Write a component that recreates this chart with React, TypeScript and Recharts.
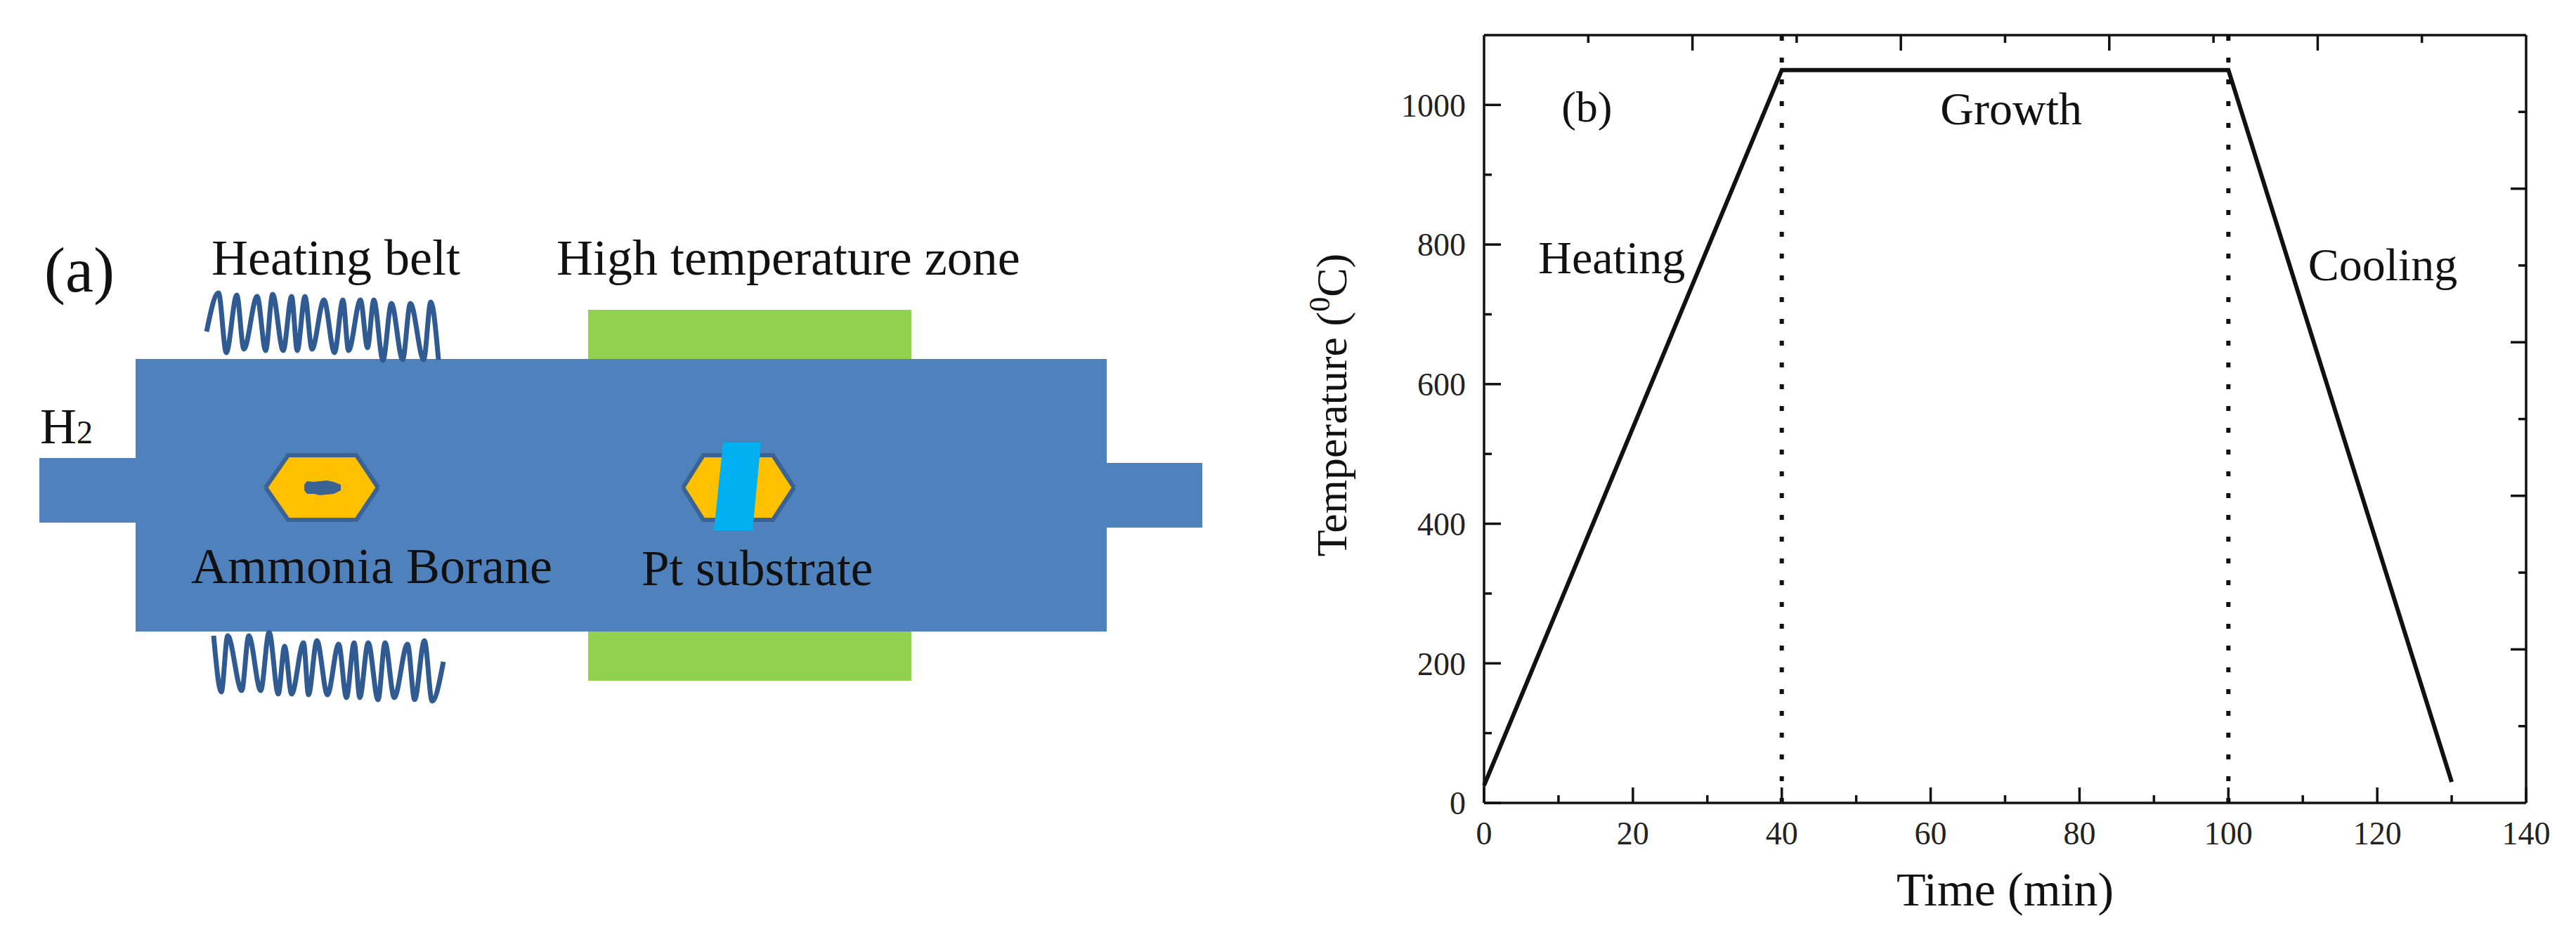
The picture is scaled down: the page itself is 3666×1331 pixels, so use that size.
import React from 'react';
import { Area, ComposedChart, Line, ReferenceDot, ReferenceLine, XAxis, YAxis } from 'recharts';

// panel (b): furnace temperature profile
const time = [0, 40, 100, 130];
const temperature = [25, 1050, 1050, 30];
const phaseBoundaries = [40, 100];
const timeMajor = [0, 20, 40, 60, 80, 100, 120, 140];
const timeMinor = [10, 30, 50, 70, 90, 110, 130];
const tempMajor = [0, 200, 400, 600, 800, 1000];
const tempMinor = [100, 300, 500, 700, 900];
const topMajor = [28, 56, 84, 112];
const topMinor = [14, 42, 70, 98, 126];
const rightMajor = [220, 440, 660, 880];
const rightMinor = [110, 330, 550, 770, 990];
const profileLabels: [string, number, number][] = [
  ['(b)', 10.4, 976],
  ['Growth', 61.3, 972],
  ['Heating', 7.3, 759],
  ['Cooling', 110.7, 749],
];

// panel (a): schematic, bands are [x, top, bottom] in a 1800 x 1331 frame
const inletStub = [[56, 652, 744], [193, 652, 744]];
const outletStub = [[1575, 659, 751], [1711, 659, 751]];
const tube = [[193, 511, 899], [1575, 511, 899]];
const zoneUpper = [[837, 441, 511], [1297, 441, 511]];
const zoneLower = [[837, 899, 969], [1297, 899, 969]];
const boatLeft = [[378, 694, 694], [410, 648, 740], [507, 648, 740], [538, 694, 694]];
const boatRight = [[972, 694, 694], [1001, 648, 740], [1100, 648, 740], [1130, 694, 694]];
const substrate = [[1016, 755, 755], [1029, 630, 755], [1071, 630, 755], [1083, 630, 630]];
const powder = [[433, 690, 698], [437, 685, 703], [447, 686, 703], [455, 685, 705], [465, 684, 704], [475, 686, 703], [485, 690, 698]];

const coilUpperX = [294, 311, 322, 337, 347, 366, 378, 388, 403, 415, 423, 434, 444, 461, 476, 488, 496, 513, 523, 532, 545, 557, 573, 584, 603, 613, 624];
const coilUpperY = [472, 417, 502, 420, 497, 422, 499, 419, 499, 422, 499, 422, 497, 427, 502, 427, 499, 427, 495, 427, 513, 432, 512, 432, 512, 430, 512];
const coilLowerX = [304, 315, 324, 344, 354, 371, 383, 396, 405, 415, 432, 439, 451, 466, 482, 493, 504, 512, 524, 538, 548, 561, 580, 590, 604, 615, 631];
const coilLowerY = [905, 985, 905, 983, 905, 983, 900, 988, 920, 988, 915, 989, 912, 989, 917, 993, 915, 993, 915, 996, 915, 993, 917, 996, 912, 998, 942];

const schematicLabels: [string, number, number, number][] = [
  ['(a)', 63, 415, 90],
  ['Heating belt', 301, 391, 72],
  ['High temperature zone', 792, 391, 72],
  ['Ammonia Borane', 272, 830, 72],
  ['Pt substrate', 913, 833, 71],
];

const SERIF = '"Liberation Serif", serif';
const INK = '#111111';

const profile = time.map((t, i) => ({ time: t, temp: temperature[i] }));
const toBand = (rows: number[][]) => rows.map(([x, top, bottom]) => ({ x, range: [top, bottom] }));
const toCoil = (xs: number[], ys: number[]) => xs.map((x, i) => ({ x, y: ys[i] }));
const noLabel = () => '';

const fillBand = (key: string, rows: number[][], fill: string, stroke = 'none', strokeWidth = 0) => (
  <Area
    key={key}
    type="linear"
    data={toBand(rows)}
    dataKey="range"
    fill={fill}
    fillOpacity={1}
    stroke={stroke}
    strokeWidth={strokeWidth}
    dot={false}
    activeDot={false}
    isAnimationActive={false}
  />
);

const Schematic = () => (
  <ComposedChart width={1800} height={1331} margin={{ top: 0, right: 0, bottom: 0, left: 0 }}>
    <XAxis hide type="number" dataKey="x" domain={[0, 1800]} />
    <YAxis hide type="number" domain={[0, 1331]} reversed />
    {fillBand('zoneUpper', zoneUpper, '#92d050')}
    {fillBand('zoneLower', zoneLower, '#92d050')}
    {fillBand('inlet', inletStub, '#4f81bd')}
    {fillBand('outlet', outletStub, '#4f81bd')}
    {fillBand('tube', tube, '#4f81bd')}
    {fillBand('boatLeft', boatLeft, '#ffc000', '#3a6293', 6)}
    {fillBand('boatRight', boatRight, '#ffc000', '#3a6293', 6)}
    {fillBand('powder', powder, '#3a6293')}
    {fillBand('substrate', substrate, '#00b0f0')}
    <Line type="monotone" data={toCoil(coilUpperX, coilUpperY)} dataKey="y" stroke="#2f5b92" strokeWidth={7} dot={false} activeDot={false} isAnimationActive={false} />
    <Line type="monotone" data={toCoil(coilLowerX, coilLowerY)} dataKey="y" stroke="#2f5b92" strokeWidth={7} dot={false} activeDot={false} isAnimationActive={false} />
    {schematicLabels.map(([label, x, y, size]) => (
      <ReferenceDot
        key={label}
        x={x}
        y={y}
        r={0}
        shape={(p: any) => (
          <text x={p.cx} y={p.cy} fontFamily={SERIF} fontSize={size} fill={INK}>
            {label}
          </text>
        )}
      />
    ))}
    <ReferenceDot
      x={57}
      y={631}
      r={0}
      shape={(p: any) => (
        <text x={p.cx} y={p.cy} fontFamily={SERIF} fontSize={72} fill={INK}>
          H<tspan fontSize={46}>2</tspan>
        </text>
      )}
    />
  </ComposedChart>
);

const tickFont = { fontFamily: SERIF, fontSize: 46, fill: '#222222' };
const axisStroke = { stroke: '#111111', strokeWidth: 3.5 };

const TemperatureTitle = (p: any) => {
  const x = p.viewBox.x - 195;
  const y = p.viewBox.y + p.viewBox.height / 2 - 20;
  return (
    <text x={x} y={y} transform={`rotate(-90 ${x} ${y})`} textAnchor="middle" fontFamily={SERIF} fontSize={62} fill={INK}>
      Temperature (<tspan dy={-24} fontSize={42}>0</tspan><tspan dy={24}>C)</tspan>
    </text>
  );
};

const TemperatureProfile = () => (
  <ComposedChart width={1866} height={1331} data={profile} margin={{ top: 48, right: 69, bottom: 186, left: 310 }}>
    <XAxis
      type="number"
      dataKey="time"
      domain={[0, 140]}
      ticks={timeMajor}
      interval={0}
      height={1}
      tickSize={-22}
      tickMargin={48}
      tick={tickFont}
      tickLine={axisStroke}
      axisLine={axisStroke}
      label={{ value: 'Time (min)', position: 'bottom', offset: 97, fontFamily: SERIF, fontSize: 68, fill: INK }}
    />
    <XAxis xAxisId="minor" type="number" dataKey="time" domain={[0, 140]} ticks={timeMinor} interval={0} height={1} tickSize={-12} tickFormatter={noLabel} tickLine={axisStroke} axisLine={false} />
    <XAxis xAxisId="top" orientation="top" type="number" dataKey="time" domain={[0, 140]} ticks={topMajor} interval={0} height={1} tickSize={-22} tickFormatter={noLabel} tickLine={axisStroke} axisLine={axisStroke} />
    <XAxis xAxisId="topMinor" orientation="top" type="number" dataKey="time" domain={[0, 140]} ticks={topMinor} interval={0} height={1} tickSize={-12} tickFormatter={noLabel} tickLine={axisStroke} axisLine={false} />
    <YAxis
      type="number"
      domain={[0, 1100]}
      ticks={tempMajor}
      interval={0}
      width={1}
      tickSize={-24}
      tickMargin={50}
      tick={tickFont}
      tickLine={axisStroke}
      axisLine={axisStroke}
      label={{ content: TemperatureTitle }}
    />
    <YAxis yAxisId="minor" dataKey="temp" type="number" domain={[0, 1100]} ticks={tempMinor} interval={0} width={1} tickSize={-12} tickFormatter={noLabel} tickLine={axisStroke} axisLine={false} />
    <YAxis yAxisId="right" dataKey="temp" orientation="right" type="number" domain={[0, 1100]} ticks={rightMajor} interval={0} width={1} tickSize={-22} tickFormatter={noLabel} tickLine={axisStroke} axisLine={axisStroke} />
    <YAxis yAxisId="rightMinor" dataKey="temp" orientation="right" type="number" domain={[0, 1100]} ticks={rightMinor} interval={0} width={1} tickSize={-12} tickFormatter={noLabel} tickLine={axisStroke} axisLine={false} />
    {phaseBoundaries.map((t) => (
      <ReferenceLine key={t} x={t} stroke="#111111" strokeWidth={6} strokeDasharray="7 24" />
    ))}
    <Line type="linear" dataKey="temp" stroke="#111111" strokeWidth={6} dot={false} activeDot={false} isAnimationActive={false} />
    {profileLabels.map(([label, x, y]) => (
      <ReferenceDot
        key={label}
        x={x}
        y={y}
        r={0}
        shape={(p: any) => (
          <text x={p.cx} y={p.cy} fontFamily={SERIF} fontSize={label === '(b)' ? 62 : 66} fill={INK}>
            {label}
          </text>
        )}
      />
    ))}
  </ComposedChart>
);

export default function App() {
  return (
    <div style={{ position: 'absolute', left: 0, top: 0, width: 3666, height: 1331, background: '#fff' }}>
      <div style={{ position: 'absolute', left: 0, top: 0 }}>
        <Schematic />
      </div>
      <div style={{ position: 'absolute', left: 1800, top: 0 }}>
        <TemperatureProfile />
      </div>
    </div>
  );
}
